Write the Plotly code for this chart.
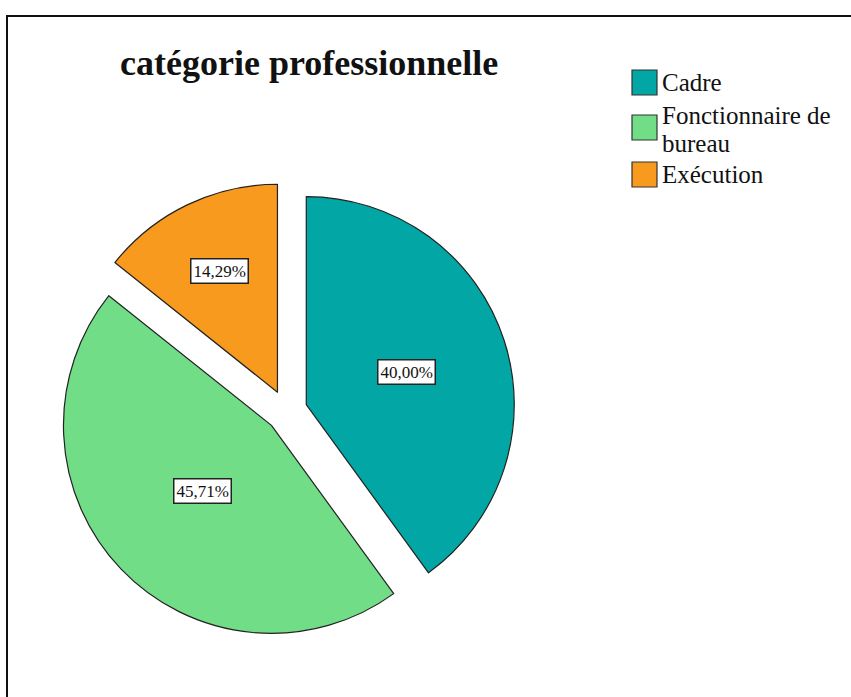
import numpy as np
import plotly.graph_objects as go

# Répartition par catégorie professionnelle (effectifs)
categories = ["Cadre", "Fonctionnaire de bureau", "Exécution"]
legend_lines = [["Cadre"], ["Fonctionnaire de", "bureau"], ["Exécution"]]
counts = [14, 16, 5]
colors = ["#02A6A4", "#71DD86", "#F89A1E"]

W, H = 851, 697
SERIF = "Liberation Serif, Times New Roman, serif"
PULL = 0.1
dom_x = [0.0678, 0.6055]
dom_y = [0.0821, 0.7386]

fig = go.Figure(go.Pie(
    labels=categories,
    values=counts,
    sort=False,
    direction="clockwise",
    rotation=0,
    pull=[PULL] * len(counts),
    marker=dict(colors=colors, line=dict(color="#222222", width=1.2)),
    textinfo="none",
    hoverinfo="label+percent",
    showlegend=False,
    domain=dict(x=dom_x, y=dom_y),
))

# Geometry of the pie in pixels, used to put the percentage boxes at each slice's centroid
cx = (dom_x[0] + dom_x[1]) / 2 * W
cy = (1 - (dom_y[0] + dom_y[1]) / 2) * H
r = min((dom_x[1] - dom_x[0]) * W, (dom_y[1] - dom_y[0]) * H) / 2 / (1 + PULL)

vals = np.array(counts, dtype=float)
shares = vals / vals.sum()
ends = np.cumsum(shares) * 2 * np.pi
starts = ends - shares * 2 * np.pi
annotations = []
for s, a0, a1 in zip(shares, starts, ends):
    mid = (a0 + a1) / 2
    span = a1 - a0
    d = PULL * r + 4 * r * np.sin(span / 2) / (3 * span)
    px = cx + d * np.sin(mid)
    py = cy - d * np.cos(mid)
    annotations.append(dict(
        x=px / W, y=1 - py / H, xref="paper", yref="paper",
        text=f"{s * 100:.2f}%".replace(".", ","),
        showarrow=False, xanchor="center", yanchor="middle",
        font=dict(family=SERIF, size=17, color="#111111"),
        bgcolor="white", bordercolor="#222222", borderwidth=1.5, borderpad=2,
    ))

# Title
annotations.append(dict(
    x=309 / W, y=1 - 63 / H, xref="paper", yref="paper",
    text="<b>catégorie professionnelle</b>", showarrow=False,
    xanchor="center", yanchor="middle",
    font=dict(family=SERIF, size=36, color="#111111"),
))

# Legend: colour squares with their category names
shapes = []
sq = 25
LINE_STEP = 28
legend_rows = [(70, 82), (115, 115), (162, 174)]  # (square top, first text line middle) in px
for lines, col, (top, tmid) in zip(legend_lines, colors, legend_rows):
    shapes.append(dict(
        type="rect", xref="paper", yref="paper",
        x0=632 / W, x1=(632 + sq) / W, y0=1 - top / H, y1=1 - (top + sq) / H,
        fillcolor=col, line=dict(color="#333333", width=1.2),
    ))
    for k, line in enumerate(lines):
        annotations.append(dict(
            x=660 / W, y=1 - (tmid + k * LINE_STEP) / H, xref="paper", yref="paper",
            text=line, showarrow=False, xanchor="left", yanchor="middle",
            font=dict(family=SERIF, size=25, color="#111111"),
        ))

# Outer frame
shapes.append(dict(
    type="rect", xref="paper", yref="paper",
    x0=7 / W, x1=1.05, y0=-0.05, y1=1 - 16 / H,
    line=dict(color="#111111", width=2), fillcolor="rgba(0,0,0,0)", layer="below",
))

fig.update_layout(
    width=W, height=H,
    margin=dict(l=0, r=0, t=0, b=0),
    paper_bgcolor="white",
    plot_bgcolor="white",
    annotations=annotations,
    shapes=shapes,
    showlegend=False,
)

fig.write_html("out.html")
